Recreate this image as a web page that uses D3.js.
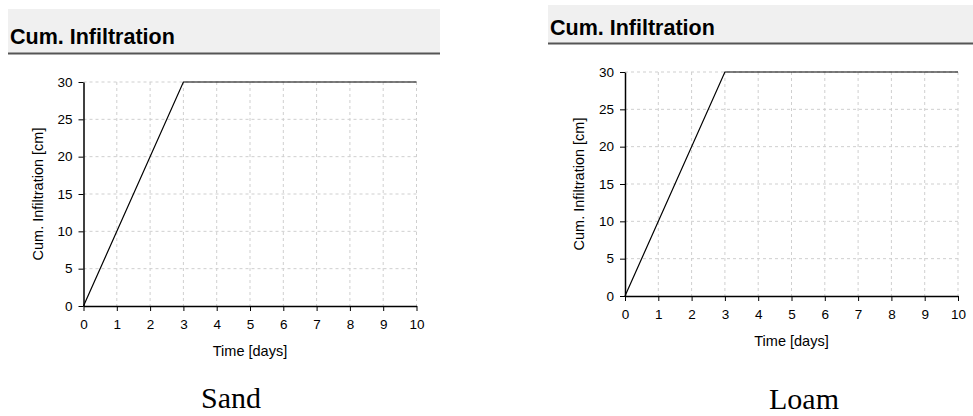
<!DOCTYPE html>
<html>
<head>
<meta charset="utf-8">
<script src="https://cdnjs.cloudflare.com/ajax/libs/d3/7.8.5/d3.min.js"></script>
<style>
  body { margin: 0; background: #fff; }
  svg { display: block; }
  .axis text { font-family: Arial, "Liberation Sans", sans-serif; font-size: 13.5px; fill: #000; }
  .axis path, .axis line { stroke: #000; }
  .grid line { stroke: #cfcfcf; stroke-dasharray: 3,3; }
</style>
</head>
<body>
<svg id="chart" width="973" height="416"></svg>
<script>
// data, same curve for both soils
var timeDays = [0, 3, 10];
var sandInfil = [0, 30, 30];
var loamInfil = [0, 30, 30];
var xTicks = [0, 1, 2, 3, 4, 5, 6, 7, 8, 9, 10];
var yTicks = [0, 5, 10, 15, 20, 25, 30];
var panelNames = ["Sand", "Loam"];

var svg = d3.select("#chart");

var panels = [
  {name: panelNames[0], values: sandInfil,
   head: {x: 8, y: 9, w: 432, h: 45, tx: 10, ty: 44},
   plot: {left: 83.5, top: 82, w: 333, h: 224},
   caption: {x: 231, y: 408}},
  {name: panelNames[1], values: loamInfil,
   head: {x: 548, y: 5, w: 425, h: 39, tx: 550, ty: 35},
   plot: {left: 625, top: 72, w: 333, h: 224},
   caption: {x: 804, y: 409}}
];

panels.forEach(function(p) {
  var pts = timeDays.map(function(t, i) { return {t: t, v: p.values[i]}; });

  // header band
  svg.append("rect")
    .attr("x", p.head.x).attr("y", p.head.y)
    .attr("width", p.head.w).attr("height", p.head.h)
    .attr("fill", "#f0f0f0");
  svg.append("line")
    .attr("x1", p.head.x).attr("x2", p.head.x + p.head.w)
    .attr("y1", p.head.y + p.head.h - 0.5).attr("y2", p.head.y + p.head.h - 0.5)
    .attr("stroke", "#555").attr("stroke-width", 2);
  svg.append("text")
    .attr("x", p.head.tx).attr("y", p.head.ty)
    .attr("font-family", "Arial, 'Liberation Sans', sans-serif")
    .attr("font-weight", "bold")
    .attr("font-size", "21.5px")
    .text("Cum. Infiltration");

  var g = svg.append("g")
    .attr("transform", "translate(" + p.plot.left + "," + p.plot.top + ")");

  var x = d3.scaleLinear().domain([0, 10]).range([0, p.plot.w]);
  var y = d3.scaleLinear().domain([0, 30]).range([p.plot.h, 0]);

  // dashed grid
  g.append("g").attr("class", "grid")
    .selectAll("line").data(xTicks.slice(1)).enter().append("line")
      .attr("x1", function(d) { return x(d); }).attr("x2", function(d) { return x(d); })
      .attr("y1", 0).attr("y2", p.plot.h);
  g.append("g").attr("class", "grid")
    .selectAll("line").data(yTicks.slice(1)).enter().append("line")
      .attr("x1", 0).attr("x2", p.plot.w)
      .attr("y1", function(d) { return y(d); }).attr("y2", function(d) { return y(d); });

  g.append("g")
    .attr("class", "axis")
    .attr("transform", "translate(0," + p.plot.h + ")")
    .call(d3.axisBottom(x).tickValues(xTicks).tickSize(5).tickSizeOuter(0).tickPadding(8));

  g.append("g")
    .attr("class", "axis")
    .call(d3.axisLeft(y).tickValues(yTicks).tickSize(5).tickSizeOuter(0).tickPadding(6));

  g.selectAll(".axis .domain").attr("stroke-width", 1.5);

  g.append("path")
    .datum(pts)
    .attr("fill", "none")
    .attr("stroke", "#000")
    .attr("stroke-width", 1.2)
    .attr("d", d3.line().x(function(d) { return x(d.t); }).y(function(d) { return y(d.v); }));

  g.append("text")
    .attr("x", p.plot.w / 2).attr("y", p.plot.h + 50)
    .attr("text-anchor", "middle")
    .attr("font-family", "Arial, 'Liberation Sans', sans-serif")
    .attr("font-size", "14.5px")
    .text("Time [days]");

  g.append("text")
    .attr("transform", "translate(-41," + (p.plot.h / 2) + ") rotate(-90)")
    .attr("text-anchor", "middle")
    .attr("font-family", "Arial, 'Liberation Sans', sans-serif")
    .attr("font-size", "14.5px")
    .text("Cum. Infiltration [cm]");

  svg.append("text")
    .attr("x", p.caption.x).attr("y", p.caption.y)
    .attr("text-anchor", "middle")
    .attr("font-family", "'Times New Roman', 'Liberation Serif', serif")
    .attr("font-size", "30px")
    .text(p.name);
});
</script>
</body>
</html>
